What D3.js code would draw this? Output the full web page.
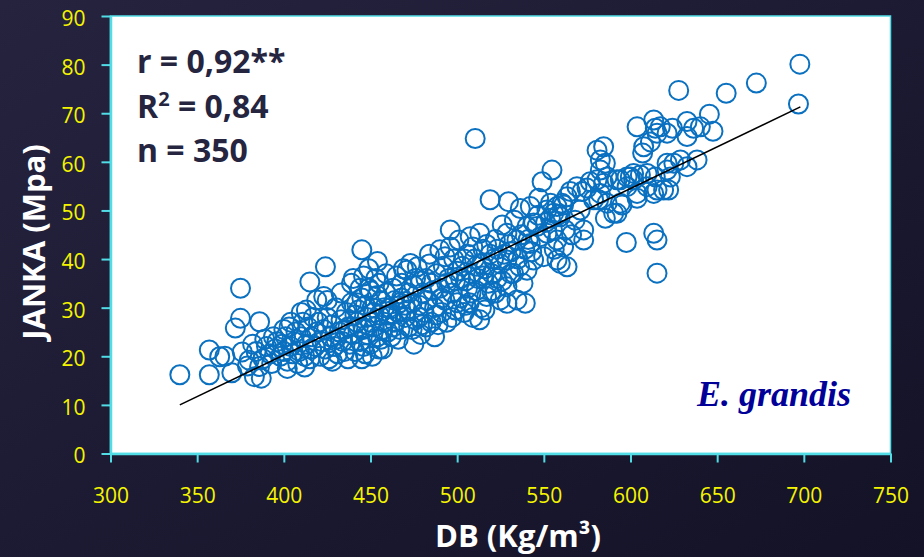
<!DOCTYPE html>
<html>
<head>
<meta charset="utf-8">
<script src="https://cdn.jsdelivr.net/npm/d3@7"></script>
<style>
    html, body { margin: 0; padding: 0; background: #1c1c34; }
    svg { display: block; }
</style>
</head>
<body>
<svg id="janka-chart"></svg>
<script>
/*--------------------------------------------------------------------------------
----- DATA (basic density DB vs JANKA hardness)
--------------------------------------------------------------------------------*/

// Each sample is [DB (Kg/m3), JANKA (Mpa)]
const janka_points = [
    // below 400
    [340,16.2],[357,16.2],[357,21.3],[363,19.9],[375,34],[375,27.8],[372,25.8],[386,27.1],[376,20.9],[370,16.6],
    [383,15.8],[387,15.5],[380,19.2],[386,17.9],[384,21],[388,19.5],[390,22],[392,20.5],[393,18.5],[395,21.5],
    [396,23],[398,20],[399,22.5],[394,24],[389,23.5],[382,22.5],[379,18],[366,20],
    // 400 - 420
    [400,21],[401,24],[402,19],[403,26],[404,22],[405,20.5],[406,23],[407,25],[408,18.5],[409,21],
    [410,24],[411,27],[412,20],[413,22.5],[414,26],[415,19.5],[416,24],[417,28],[418,22],[419,25],
    [413,29.5],[415,35.3],[419,31.6],[423,32.3],[424,38.4],[410,29],[404,27],[400,25.5],[402,17.5],[412,17.8],
    [416,21.5],[420,27],
    // 420 - 440
    [421,20],[422,23],[423,25.5],[424,21.5],[425,28],[426,19.5],[427,24],[428,26.5],[429,22],[430,30],
    [431,20.5],[432,25],[433,27.5],[434,23],[435,21],[436,29],[437,26],[438,22.5],[439,31],[440,24.5],
    [425,31.5],[428,19],[433,33],[437,19.5],[440,36],[439,35],[430,23.5],[435,25.5],
    // 440 - 460
    [441,21],[442,27],[443,29.5],[444,23],[445,41.9],[445,32],[446,25.5],[447,20.5],[448,28],[449,34],
    [450,22.5],[451,30],[452,26],[453,36],[454,39.5],[454,24],[455,28.5],[456,31.5],[457,21.5],[458,27],
    [459,33],[460,25],[442,31],[444,34],[446,22],[448,24.5],[450,27],[452,29],[454,32.5],[456,23.5],
    [458,30],[460,28.5],[443,26],[447,30.5],[451,20],[455,35],[459,37],[449,38],[446,36.5],[457,25.5],
    [441,28.5],[445,19.5],[450,33.5],[455,21.5],
    // 460 - 480
    [461,30],[462,24],[463,34],[464,27],[465,36.5],[466,29],[467,25.5],[468,32],[469,38],[470,28],
    [471,37.7],[472,26],[473,39.1],[474,31],[475,34.5],[476,27.5],[477,38.4],[478,30.5],[479,24.5],[480,33],
    [462,28.5],[464,31.5],[466,23.5],[468,35],[470,30.5],[472,33],[474,25.5],[476,36],[478,28],[480,26.5],
    [463,26],[467,31],[471,29.5],[475,22.5],[479,35.5],
    // 480 - 500
    [481,29],[482,36],[483,31.5],[484,39],[485,27],[486,33.5],[487,30],[488,37],[489,26.5],[490,41.9],
    [490,34],[491,29],[492,38.5],[493,31.5],[494,27],[495,36],[496,46],[497,33],[498,40],[499,29.5],
    [500,37.5],[482,26],[485,35],[488,28.5],[491,32],[494,35],[497,28],[500,31],[484,41],[493,40.5],
    [487,24],[496,42.5],[499,35.5],
    // 500 - 520
    [501,43.9],[502,32],[503,38.5],[504,29],[505,35.5],[506,41],[507,31],[507.5,44.6],[508,37],[509,28],
    [510.4,64.8],[510,40],[511,33.5],[512,36],[513,45.3],[514,30],[515,42],[516,38],[517,32.3],[518,35],
    [519,52.2],[519,41],[520,37],[502,36],[505,30.5],[508,33],[511,38.5],[514,39],[517,43],[520,33.5],
    [504,40],[513,27.5],[516,29.5],[506,34],[509,42.5],[515,36.5],
    // 520 - 540
    [521,40],[522,44],[523,36],[524.9,31.6],[525,39],[526,47],[527,41],[528.7,45.3],[528.7,39.8],[528.7,34.3],
    [528.7,30.9],[529.6,51.8],[530,43],[531,37],[532.5,37.1],[533,48],[534.5,43.9],[534.5,31.6],[535,40],[536.4,50.4],
    [537,45],[538,35],[539.3,30.9],[540.3,46.7],[540.3,37.7],[523,42],[526,35.5],[531,41.5],[536,38.5],
    [539,42],[522,33],
    // 540 - 560
    [541,44],[542.2,50.8],[542.2,43.2],[544.1,47.4],[544.1,39.8],[546,46.7],[546.7,49],[548,44.6],[549,55.9],[549.9,40.5],
    [551.8,45.3],[551.8,50.1],[553.8,51.5],[553.8,48.4],[554.7,58.3],[555.7,49.4],[556,42],[557.6,50.8],[557.6,43.9],[557.6,39.8],
    [558.5,49.1],[559.5,48.7],[559.5,39.1],[560.5,51.5],[547,52.5],[551,47.5],[543,41.5],[555,46],
    // 560 - 580
    [561.4,51.1],[561.4,42.5],[562.4,46],[563.4,52.8],[565.3,53.9],[563.4,38.4],[566,45],[569.1,54.9],[571,50.1],[572,53.9],
    [573,46],[573,43.9],[574.9,54.6],[576.8,55.9],[578.7,52.2],[568,48],
    // 580 - 600
    [580.7,62.4],[580.7,56.3],[581.6,52.2],[582.6,58.3],[582.6,60.4],[582.6,53.5],[584.5,63.1],[584.5,55.6],[585.5,59.7],[585.5,48.4],
    [586.5,51.5],[586.5,56.9],[590.3,49.4],[592.2,56.3],[592.2,49.4],[594.1,56.3],[594.1,51.5],[595.1,51.1],[597.6,43.4],[598,56.9],
    [598,54.9],[599.9,56.9],
    // 600 - 620
    [601.8,56.3],[601.8,57.6],[603.8,67.2],[603.8,53.5],[603.8,52.5],[605.7,57.3],[607,61.8],[607.6,63.1],[609.6,54.9],[609.6,57.6],
    [611.5,64.1],[613.4,53.5],[613.4,68.6],[613.4,45.3],[614.3,66.9],[614.3,56.9],[615.3,65.9],[615.3,54.2],[615.3,43.9],[615.3,37.1],
    [617.2,67.2],[619.1,54.2],
    // 620 - 700
    [621.1,65.9],[621.1,58.3],[621.1,59.7],[622,54.2],[623,56.9],[624.2,66.9],[625,59.7],[627.8,74.7],[628.8,60.4],[632.6,59],
    [632.6,68.3],[632.6,65.2],[636.4,66.9],[638.4,60.4],[640.3,67.2],[645.5,69.8],[647.6,66.3],[655.2,74.1],[672.6,76.2],[697.7,80.1],
    [696.9,71.9]
];

// Fitted line end points (DB, JANKA)
const trend_x = [340, 698];
const trend_y = [10.0, 71.3];

// Axis ticks
const x_ticks = [300, 350, 400, 450, 500, 550, 600, 650, 700, 750];
const y_ticks = [0, 10, 20, 30, 40, 50, 60, 70, 80, 90];

// Statistics written in the corner
const stat_labels = ["r = 0,92**", "R", "n = 350"];

/*--------------------------------------------------------------------------------
----- CHART
--------------------------------------------------------------------------------*/

const chart_width = 924, chart_height = 557;
const plot_box = { left: 110.5, right: 890.5, top: 16, bottom: 453.5 };
const axis_color = "#52dde6";
const label_font = "'Open Sans', 'DejaVu Sans', sans-serif";

// Scales for the density (x) and hardness (y)
const x_scale = d3.scaleLinear()
    .domain([300, 750])
    .range([plot_box.left, plot_box.right]);
const y_scale = d3.scaleLinear()
    .domain([0, 90])
    .range([plot_box.bottom, plot_box.top]);

// Chart container
const svg = d3.select("#janka-chart")
    .attr("width", chart_width)
    .attr("height", chart_height);

// Dark slide background
const defs = svg.append("defs");
const bg_gradient = defs.append("linearGradient")
    .attr("id", "bg-gradient")
    .attr("x1", "0").attr("y1", "0")
    .attr("x2", "1").attr("y2", "1");
bg_gradient.append("stop").attr("offset", "0%").attr("stop-color", "#26233f");
bg_gradient.append("stop").attr("offset", "100%").attr("stop-color", "#131226");

svg.append("rect")
    .attr("width", chart_width)
    .attr("height", chart_height)
    .attr("fill", "url(#bg-gradient)");

// White plot area with thin cyan frame
svg.append("rect")
    .attr("x", plot_box.left)
    .attr("y", plot_box.top)
    .attr("width", plot_box.right - plot_box.left)
    .attr("height", plot_box.bottom - plot_box.top)
    .attr("fill", "#ffffff")
    .attr("stroke", axis_color)
    .attr("stroke-width", 1.5);

// Sample circles
svg.append("g")
    .selectAll("circle")
    .data(janka_points)
    .enter().append("circle")
    .attr("cx", function (d) { return x_scale(d[0]); })
    .attr("cy", function (d) { return y_scale(d[1]); })
    .attr("r", 9.5)
    .attr("fill", "none")
    .attr("stroke", "#0a70c0")
    .attr("stroke-width", 2);

// Linear fit
svg.append("path")
    .datum(d3.zip(trend_x, trend_y))
    .attr("fill", "none")
    .attr("stroke", "#000")
    .attr("stroke-width", 1.6)
    .attr("d", d3.line()
        .x(function (d) { return x_scale(d[0]); })
        .y(function (d) { return y_scale(d[1]); }));

// X axis
const x_axis = svg.append("g")
    .attr("transform", "translate(0," + plot_box.bottom + ")")
    .call(d3.axisBottom(x_scale).tickValues(x_ticks).tickSize(9).tickSizeOuter(0).tickPadding(26));

// Y axis
const y_axis = svg.append("g")
    .attr("transform", "translate(" + plot_box.left + ",0)")
    .call(d3.axisLeft(y_scale).tickValues(y_ticks).tickSize(9).tickSizeOuter(0).tickPadding(16));

[x_axis, y_axis].forEach(function (axis) {
    axis.select(".domain").attr("stroke", axis_color).attr("stroke-width", 2.5);
    axis.selectAll(".tick line").attr("stroke", axis_color).attr("stroke-width", 2);
    axis.selectAll(".tick text")
        .attr("fill", "#f5f500")
        .style("font-family", label_font)
        .style("font-size", "21px");
});
y_axis.selectAll(".tick text").attr("dy", "0.45em");

// Axis titles
svg.append("text")
    .attr("x", 518)
    .attr("y", 547)
    .attr("text-anchor", "middle")
    .attr("fill", "#ffffff")
    .style("font-family", label_font)
    .style("font-weight", "bold")
    .style("font-size", "31px")
    .text("DB (Kg/m³)");

svg.append("text")
    .attr("transform", "translate(45,242) rotate(-90)")
    .attr("text-anchor", "middle")
    .attr("fill", "#ffffff")
    .style("font-family", label_font)
    .style("font-weight", "bold")
    .style("font-size", "31px")
    .text("JANKA (Mpa)");

// Statistics block
const stats = svg.append("g")
    .attr("fill", "#25253f")
    .style("font-family", label_font)
    .style("font-weight", "bold")
    .style("font-size", "32px");

stats.append("text").attr("x", 137).attr("y", 73).text(stat_labels[0]);
const r2_text = stats.append("text").attr("x", 137).attr("y", 118);
r2_text.append("tspan").text(stat_labels[1]);
r2_text.append("tspan").attr("dy", -12).style("font-size", "20px").text("2");
r2_text.append("tspan").attr("dy", 12).text(" = 0,84");
stats.append("text").attr("x", 137).attr("y", 162).text(stat_labels[2]);

// Species label
svg.append("text")
    .attr("x", 851)
    .attr("y", 406)
    .attr("text-anchor", "end")
    .attr("fill", "#000099")
    .style("font-family", "'Liberation Serif', 'DejaVu Serif', serif")
    .style("font-weight", "bold")
    .style("font-style", "italic")
    .style("font-size", "36px")
    .text("E. grandis");
</script>
</body>
</html>
